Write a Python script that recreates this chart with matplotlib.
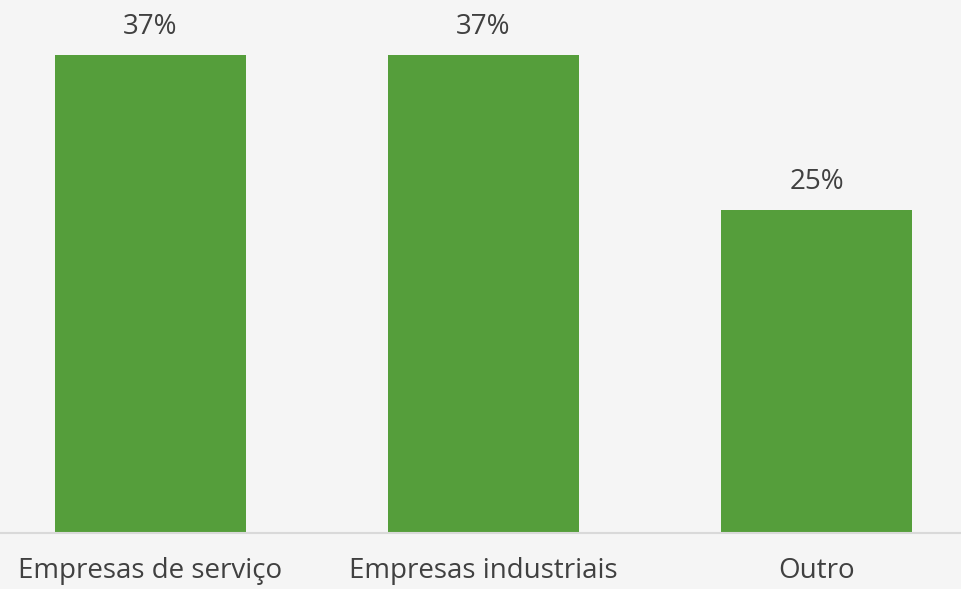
import matplotlib.pyplot as plt

categories = ["Empresas de serviço", "Empresas industriais", "Outro"]
values = [37, 37, 25]
labels = ["37%", "37%", "25%"]

plt.rcParams['font.family'] = ['Open Sans', 'DejaVu Sans']

fig = plt.figure(figsize=(9.61, 5.89), dpi=100)
fig.patch.set_facecolor("#f5f5f5")
ax = fig.add_axes([0, 56 / 589, 1, 1 - 56 / 589])
ax.set_facecolor("#f5f5f5")

x = range(len(categories))
bars = ax.bar(x, values, width=0.574, color="#559e3b")

for xi, v, lab in zip(x, values, labels):
    ax.annotate(lab, (xi, v), xytext=(0, 10), textcoords="offset points",
                ha="center", va="bottom", fontsize=20, color="#404040")

ax.set_xlim(-0.452, 2.434)
ax.set_ylim(0, 41.26)
ax.set_yticks([])
ax.set_xticks(list(x))
ax.set_xticklabels(categories, fontsize=20, color="#404040")
ax.tick_params(axis="x", length=0, pad=17)
for s in ["top", "right", "left"]:
    ax.spines[s].set_visible(False)
ax.spines["bottom"].set_color("#d9d9d9")
ax.spines["bottom"].set_linewidth(1.5)

fig.savefig("out.png", dpi=100, facecolor=fig.get_facecolor())
